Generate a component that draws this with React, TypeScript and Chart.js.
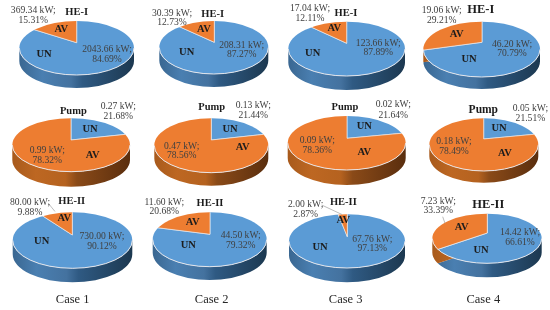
import React, { useEffect, useRef } from "react";
import { Chart, registerables } from "chart.js";

Chart.register(...registerables);

const CASES = ["Case 1", "Case 2", "Case 3", "Case 4"];
const SEGMENTS = ["UN", "AV"];

const HE1_UN_KW = [2043.66, 208.31, 123.66, 46.2];
const HE1_UN_PCT = [84.69, 87.27, 87.89, 70.79];
const HE1_AV_KW = [369.34, 30.39, 17.04, 19.06];
const HE1_AV_PCT = [15.31, 12.73, 12.11, 29.21];

const PUMP_UN_KW = [0.27, 0.13, 0.02, 0.05];
const PUMP_UN_PCT = [21.68, 21.44, 21.64, 21.51];
const PUMP_AV_KW = [0.99, 0.47, 0.09, 0.18];
const PUMP_AV_PCT = [78.32, 78.56, 78.36, 78.49];

const HE2_UN_KW = [730.0, 44.5, 67.76, 14.42];
const HE2_UN_PCT = [90.12, 79.32, 97.13, 66.61];
const HE2_AV_KW = [80.0, 11.6, 2.0, 7.23];
const HE2_AV_PCT = [9.88, 20.68, 2.87, 33.39];

const ROWS = [
  { title: "HE-I", unKw: HE1_UN_KW, unPct: HE1_UN_PCT, avKw: HE1_AV_KW, avPct: HE1_AV_PCT },
  { title: "Pump", unKw: PUMP_UN_KW, unPct: PUMP_UN_PCT, avKw: PUMP_AV_KW, avPct: PUMP_AV_PCT },
  { title: "HE-II", unKw: HE2_UN_KW, unPct: HE2_UN_PCT, avKw: HE2_AV_KW, avPct: HE2_AV_PCT },
];

// Layout only: [left, right, top, rimBottom, bandBottom, apexX, apexY, tilt]
const SHAPE = [
  [[19.3, 134, 21, 75, 88, 76.7, 42.7, 0.44], [159.3, 268.3, 21, 74, 87, 214.3, 42.3, 0.46], [288.3, 405, 21.7, 76, 90, 346.7, 43.3, 0.435], [423.3, 540, 21.7, 77, 89, 482, 42.3, 0.49]],
  [[12.3, 130, 118.3, 171.7, 186.7, 71, 140, 0.49], [154.3, 268.3, 118.3, 172.7, 185.7, 211.3, 140, 0.475], [287.7, 405.7, 116, 170, 185, 347, 138.3, 0.43], [429.3, 538.3, 118.3, 171, 182.7, 483.7, 139, 0.42]],
  [[12.7, 132.3, 212.3, 268.3, 282.3, 72.3, 235, 0.46], [152.7, 266.7, 212.3, 266.7, 280, 210, 234.3, 0.45], [289, 405, 214.3, 268, 282.3, 347.3, 236.7, 0.45], [432.3, 541.7, 213.7, 263.3, 277.3, 487.3, 233, 0.57]],
];

// Layout only: title [x, y, size], AV value [x, y1, y2], UN value [x, y1, y2], AV tag [x, y], UN tag [x, y]
const TEXT = [
  [
    { t: [76.7, 12, 10.5], av: [33.3, 10.3, 20], un: [107, 49.3, 59], at: [61.3, 29.3], ut: [44, 54] },
    { t: [212.7, 14.3, 10.5], av: [172, 13.3, 22], un: [241.7, 45.3, 54.3], at: [204, 29.3], ut: [186.7, 52.3] },
    { t: [346, 13.3, 10.5], av: [310, 8.3, 18.3], un: [378.3, 43, 52.7], at: [334.3, 28.7], ut: [312.7, 53.3] },
    { t: [480.7, 10, 12.5], av: [441.7, 10.7, 20.7], un: [512, 44, 53.3], at: [456.7, 34.3], ut: [469, 59.3] },
  ],
  [
    { t: [73.3, 111, 10.5], av: [47.3, 150, 160], un: [118.3, 106, 116.7], at: [92.7, 155], ut: [90, 129] },
    { t: [211.7, 107.7, 10.5], av: [181.7, 146, 155.3], un: [253.3, 105.3, 115.3], at: [242.7, 147.7], ut: [230, 129.3] },
    { t: [345, 107.7, 10.5], av: [317.3, 140, 150], un: [393.3, 104.7, 115], at: [364.3, 152.3], ut: [364.3, 126.7] },
    { t: [483.3, 110, 11.5], av: [454, 141.3, 151], un: [530.4, 108.7, 118.7], at: [505, 153.3], ut: [499, 128.3] },
  ],
  [
    { t: [71.7, 201, 10.5], av: [30, 202, 212.3], un: [102, 236.7, 246.7], at: [64.3, 218.3], ut: [41.7, 241.7] },
    { t: [210, 203.3, 10.5], av: [164.3, 202, 211.7], un: [240.7, 235.7, 245], at: [192.7, 222.3], ut: [188.3, 245] },
    { t: [343.3, 202.3, 10.5], av: [305.7, 204.3, 214.3], un: [372.3, 239, 248.3], at: [343.3, 220.7], ut: [320, 247.3] },
    { t: [488.3, 205, 12.5], av: [438.3, 201.7, 210.7], un: [520, 232.3, 242], at: [461.7, 227.7], ut: [481, 250.7] },
  ],
];

// Layout only: thin grey connector lines [x1, y1, x2, y2]
const LEADERS = [
  [null, null, null, null],
  [null, null, null, null],
  [[48.3, 203.3, 55, 211.5], null, [321.7, 205, 342, 214.5], [442.7, 216.7, 445, 223.3]],
];

const CASE_LABEL_X = [72.7, 211.7, 345.7, 483.3];
const CASE_LABEL_Y = 300;

const W = 550;
const H = 310;
const BLUE = "#5b9bd5";
const ORANGE = "#ed7d31";
const SIDE: Record<string, string[]> = {
  [BLUE]: ["#3a6791", "#4a7fb1", "#44729f", "#2f5a83", "#1c3850"],
  [ORANGE]: ["#a85a1c", "#bd6722", "#b5621f", "#8a4a18", "#5a2e0e"],
};

const serif = "'Liberation Serif', 'Times New Roman', serif";

const pie3d = {
  id: "pie3d",
  beforeDatasetsDraw(chart: any, _a: any, o: any) {
    const { ctx } = chart;
    const [l, r, top, rimB, bandB, ax, ay, k] = o.shape;
    const cx = (l + r) / 2;
    const rx = (r - l) / 2;
    const ry = (rimB - top) / 2;
    const cy = top + ry;
    const d = bandB - rimB;
    const meta = chart.getDatasetMeta(0);

    // side wall, coloured by the same slices the top shows
    ctx.save();
    ctx.beginPath();
    ctx.ellipse(cx, cy + d, rx, ry, 0, 0, Math.PI);
    ctx.lineTo(l, cy);
    ctx.ellipse(cx, cy, rx, ry, 0, Math.PI, 0, true);
    ctx.closePath();
    ctx.clip();
    meta.data.forEach((arc: any, i: number) => {
      const color = chart.data.datasets[0].backgroundColor[i];
      const g = ctx.createLinearGradient(l, 0, r, 0);
      const s = SIDE[color];
      g.addColorStop(0, s[0]);
      g.addColorStop(0.2, s[1]);
      g.addColorStop(0.45, s[2]);
      g.addColorStop(0.55, s[3]);
      g.addColorStop(1, s[4]);
      ctx.fillStyle = g;
      ctx.save();
      ctx.translate(ax, ay + d);
      ctx.scale(1, k);
      ctx.beginPath();
      ctx.moveTo(0, 0);
      ctx.arc(0, 0, arc.outerRadius, arc.startAngle, arc.endAngle);
      ctx.closePath();
      ctx.restore();
      ctx.fill();
    });
    ctx.restore();

    // top face: the chart's own arcs, moved to the apex, squashed and clipped to the rim
    const first = meta.data[0];
    ctx.save();
    ctx.beginPath();
    ctx.ellipse(cx, cy, rx, ry, 0, 0, Math.PI * 2);
    ctx.clip();
    ctx.translate(ax, ay);
    ctx.scale(1, k);
    ctx.translate(-first.x, -first.y);
  },
  afterDatasetsDraw(chart: any, _a: any, o: any) {
    const { ctx } = chart;
    ctx.restore();
    const [l, r, top, rimB] = o.shape;
    const cx = (l + r) / 2;
    const rx = (r - l) / 2;
    const ry = (rimB - top) / 2;
    const cy = top + ry;

    ctx.save();
    ctx.strokeStyle = "rgba(232,232,236,0.95)";
    ctx.lineWidth = 1;
    ctx.beginPath();
    ctx.ellipse(cx, cy, rx, ry, 0, 0, Math.PI);
    ctx.stroke();

    if (o.leader) {
      const [a, b, c, e] = o.leader;
      ctx.strokeStyle = "#a6a6a6";
      ctx.lineWidth = 0.75;
      ctx.beginPath();
      ctx.moveTo(a, b);
      ctx.lineTo(c, e);
      ctx.stroke();
    }

    ctx.textAlign = "center";
    ctx.textBaseline = "middle";
    const p = o.text;
    ctx.fillStyle = "#1c1c1c";
    ctx.font = `bold ${p.t[2]}px ${serif}`;
    ctx.fillText(o.title, p.t[0], p.t[1]);
    ctx.font = `bold 10.5px ${serif}`;
    ctx.fillText(chart.data.labels[1], p.at[0], p.at[1]);
    ctx.fillText(chart.data.labels[0], p.ut[0], p.ut[1]);

    ctx.fillStyle = "#404040";
    ctx.font = `9.6px ${serif}`;
    ctx.fillText(`${o.avKw.toFixed(2)} kW;`, p.av[0], p.av[1]);
    ctx.fillText(`${o.avPct.toFixed(2)}%`, p.av[0], p.av[2]);
    ctx.fillText(`${o.unKw.toFixed(2)} kW;`, p.un[0], p.un[1]);
    ctx.fillText(`${o.unPct.toFixed(2)}%`, p.un[0], p.un[2]);

    if (o.caseLabel) {
      ctx.fillStyle = "#262626";
      ctx.font = `12.5px ${serif}`;
      ctx.fillText(o.caseLabel, o.caseX, CASE_LABEL_Y);
    }
    ctx.restore();
  },
};

function Pie({ row, col }: { row: number; col: number }) {
  const ref = useRef<HTMLCanvasElement>(null);
  useEffect(() => {
    const R = ROWS[row];
    const shape = SHAPE[row][col];
    const chart = new Chart(ref.current!, {
      type: "pie",
      data: {
        labels: SEGMENTS,
        datasets: [
          {
            data: [R.unPct[col], R.avPct[col]],
            backgroundColor: [BLUE, ORANGE],
            borderColor: "rgba(232,238,244,0.9)",
            borderWidth: 1,
            clip: false,
          } as any,
        ],
      },
      options: {
        responsive: false,
        animation: false,
        events: [],
        plugins: {
          legend: { display: false },
          title: { display: false },
          tooltip: { enabled: false },
          pie3d: {
            shape,
            text: TEXT[row][col],
            leader: LEADERS[row][col],
            title: R.title,
            unKw: R.unKw[col],
            unPct: R.unPct[col],
            avKw: R.avKw[col],
            avPct: R.avPct[col],
            caseLabel: row === 2 ? CASES[col] : null,
            caseX: CASE_LABEL_X[col],
          },
        } as any,
      },
      plugins: [pie3d as any],
    });
    return () => chart.destroy();
  }, [row, col]);
  return (
    <canvas
      ref={ref}
      width={W}
      height={H}
      style={{ position: "absolute", left: 0, top: 0, width: W, height: H }}
    />
  );
}

export default function App() {
  return (
    <div style={{ position: "fixed", left: 0, top: 0, width: W, height: H, background: "#fff", overflow: "hidden", filter: "blur(0.3px)" }}>
      {ROWS.map((_, r) => CASES.map((_c, c) => <Pie key={`${r}-${c}`} row={r} col={c} />))}
    </div>
  );
}
